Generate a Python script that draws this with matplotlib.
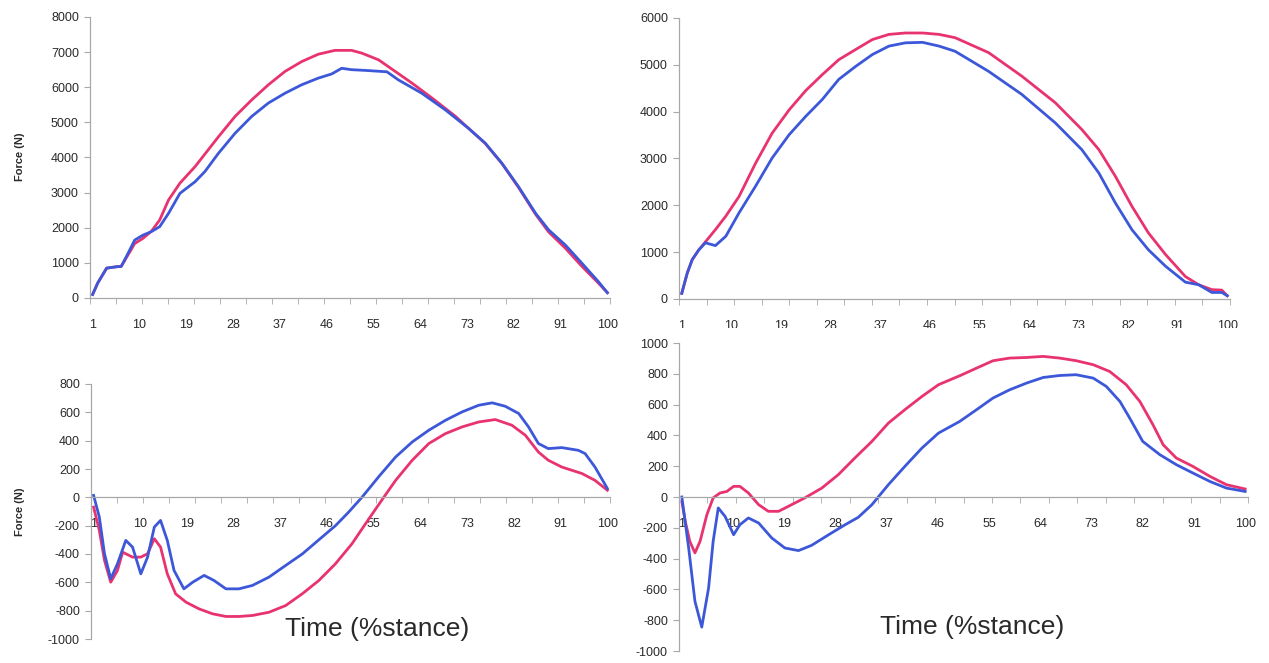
import numpy as np
import matplotlib
matplotlib.use("Agg")
from matplotlib import pyplot as plt
from matplotlib.patches import Rectangle

plt.rcParams['font.family'] = ['Liberation Sans', 'DejaVu Sans']
plt.rcParams['axes.unicode_minus'] = False

# ---- data (x = % stance, y = force in N) ----
tl_blue_x = [1, 2, 3.7, 5.6, 6.5, 7.5, 9.1, 10.7, 12.3, 13.9, 15.6, 17.8, 20.7, 22.6, 25.2, 28.4, 31.6,
             34.8, 38, 41.2, 44.4, 47, 48.9, 50.8, 53.4, 57.6, 59.8, 64.3, 68.8, 73.3, 76.5, 79.7,
             82.9, 86.2, 88.7, 91.9, 95.1, 98.3, 100]
tl_blue = [100, 430, 850, 890, 900, 1180, 1650, 1790, 1890, 2030, 2410, 2980, 3310, 3600, 4120, 4690, 5170,
           5550, 5830, 6070, 6260, 6380, 6540, 6500, 6480, 6440, 6210, 5830, 5360, 4830, 4410, 3840,
           3170, 2410, 1940, 1510, 990, 460, 150]
tl_red_x = [1, 2, 3.7, 5.6, 6.5, 7.5, 9.1, 10.7, 12.3, 13.9, 15.6, 17.8, 20.7, 25.2, 28.4, 31.6, 34.8,
            38, 41.2, 44.4, 47.6, 50.8, 52.8, 56, 59.2, 62.4, 66.3, 70.8, 73.3, 76.5, 79.7, 82.9,
            86.2, 88.7, 91.9, 95.1, 98.3, 100]
tl_red = [100, 430, 850, 890, 900, 1150, 1550, 1700, 1900, 2220, 2790, 3270, 3740, 4590, 5170, 5640, 6070,
          6450, 6730, 6940, 7050, 7050, 6970, 6780, 6450, 6120, 5690, 5170, 4830, 4400, 3830, 3150,
          2380, 1880, 1420, 900, 420, 150]

tr_blue_x = [1, 2, 2.9, 4.1, 5.3, 7.1, 9, 11.4, 14.4, 17.4, 20.5, 23.5, 26.5, 29.5, 32.6, 35.6, 38.6,
             41.6, 44.7, 47.7, 50.6, 56.7, 62.7, 68.8, 73.6, 76.7, 79.7, 82.7, 85.7, 88.8, 92.4,
             94.8, 97.2, 99, 100]
tr_blue = [120, 555, 840, 1050, 1200, 1140, 1340, 1840, 2410, 3010, 3510, 3900, 4260, 4690, 4970, 5220, 5400,
           5470, 5480, 5400, 5290, 4860, 4370, 3760, 3190, 2690, 2050, 1480, 1050, 700, 360,
           305, 140, 140, 70]
tr_red_x = [1, 2, 2.9, 4.1, 5.3, 7.1, 9, 11.4, 14.4, 17.4, 20.5, 23.5, 26.5, 29.5, 32.6, 35.6, 38.6,
            41.6, 44.7, 47.7, 50.6, 56.7, 62.7, 68.8, 73.6, 76.7, 79.7, 82.7, 85.7, 88.8, 92.4,
            94.8, 97.2, 99, 100]
tr_red = [120, 555, 840, 1050, 1220, 1480, 1770, 2190, 2900, 3540, 4040, 4450, 4790, 5110, 5330, 5540, 5650,
          5680, 5680, 5650, 5580, 5260, 4760, 4190, 3620, 3190, 2620, 1980, 1410, 950, 480,
          305, 200, 190, 70]

bl_blue_x = [1, 2.1, 3.1, 4.3, 5.6, 7.2, 8.5, 10.1, 11.4, 12.7, 13.9, 15.2, 16.5, 18.4, 20.1, 22.3, 24.2,
             26.5, 29, 31.6, 34.8, 38, 41.2, 44.4, 47.6, 50, 52.7, 55.9, 59.2, 62.4, 65.6, 68.8,
             72, 75.2, 77.8, 80.3, 82.9, 84.8, 86.7, 88.6, 91.2, 94.4, 95.7, 97.6, 100]
bl_blue = [14, -139, -398, -575, -469, -304, -351, -540, -422, -210, -163, -304, -516, -646, -599, -551, -587,
           -646, -646, -622, -563, -481, -400, -300, -200, -110, 0, 144, 285, 391, 474, 544,
           603, 650, 667, 643, 592, 497, 380, 344, 351, 332, 309, 214, 62]
bl_red_x = [1, 2.1, 3.1, 4.3, 5.6, 6.6, 8.5, 10.1, 11.4, 12.7, 13.9, 15.2, 16.8, 18.8, 21.3, 23.9, 26.5,
            29, 31.6, 34.8, 38, 41.2, 44.4, 47.6, 50.8, 53.4, 56.9, 59.2, 62.4, 65.6, 68.8, 72,
            75.2, 78.4, 81.6, 84.2, 86.7, 88.6, 91.2, 95.1, 97.6, 100]
bl_red = [-69, -233, -445, -599, -516, -387, -422, -422, -398, -292, -351, -540, -681, -740, -787, -822, -841,
          -841, -834, -811, -764, -681, -587, -469, -327, -186, 0, 120, 262, 380, 450, 497,
          532, 549, 509, 438, 320, 262, 214, 168, 120, 50]

br_blue_x = [1, 2.2, 3.3, 4.5, 5.7, 6.5, 7.4, 8.6, 10.1, 11.2, 12.7, 14.5, 16.8, 19.1, 21.5, 23.8,
             26.8, 29.7, 32, 34.4, 37.3, 40.2, 43.2, 46.1, 49.8, 52.8, 55.7, 58.6, 61.6, 64.5, 67.4,
             70.3, 73.3, 75.6, 78, 79.7, 82, 85, 87.9, 90.8, 93.8, 96.7, 100]
br_blue = [0, -331, -677, -845, -591, -288, -71, -126, -245, -180, -136, -169, -266, -331, -348, -314,
           -245, -180, -132, -50, 80, 199, 318, 415, 490, 567, 643, 696, 740, 776, 789,
           794, 772, 718, 620, 513, 361, 275, 210, 156, 101, 58, 36]
br_red_x = [1, 1.6, 2.4, 3.3, 4.2, 5.4, 6.5, 7.7, 8.9, 10.1, 11.2, 12.7, 14.5, 16.2, 18, 19.7, 22.6,
            25.6, 28.5, 31.4, 34.4, 37.3, 40.2, 43.2, 46.1, 50, 52.8, 55.7, 58.6, 61.6, 64.5, 67.4,
            70.3, 73.3, 76.2, 79.1, 81.5, 83.8, 85.6, 87.9, 90.8, 93.8, 96.7, 100]
br_red = [-30, -158, -288, -363, -288, -115, -6, 26, 36, 69, 69, 26, -50, -93, -93, -61, -6,
          58, 145, 253, 361, 480, 567, 653, 729, 790, 837, 885, 902, 906, 913, 902,
          885, 859, 815, 729, 620, 469, 339, 253, 199, 134, 80, 52]

x_labels = [1, 10, 19, 28, 37, 46, 55, 64, 73, 82, 91, 100]

RED = '#e8336f'
BLUE = '#3c58d9'
AXIS = '#a8a8a8'
TXT = '#2a2a2a'

W, H = 1269, 663
fig = plt.figure(figsize=(W / 100, H / 100), dpi=100)


def px_axes(left, top, right, bottom):
    return fig.add_axes([left / W, 1 - bottom / H, (right - left) / W, (bottom - top) / H])


def style(ax, ylim, ystep, zero_axis=False):
    ax.set_xlim(0.5, 100.5)
    ax.set_ylim(*ylim)
    for s in ['top', 'right']:
        ax.spines[s].set_visible(False)
    for s in ['left', 'bottom']:
        ax.spines[s].set_color(AXIS)
        ax.spines[s].set_linewidth(0.9)
    if zero_axis:
        ax.spines['bottom'].set_position(('data', 0))
    ax.set_xticks(x_labels)
    ax.set_xticks(np.arange(0.5, 101, 5), minor=True)
    ax.set_yticks(np.arange(ylim[0], ylim[1] + 1, ystep))
    ax.tick_params(axis='x', which='major', length=0, pad=15, labelsize=9, labelcolor=TXT)
    ax.tick_params(axis='x', which='minor', length=4, direction='out', color=AXIS)
    ax.tick_params(axis='y', length=4, direction='out', color=AXIS, pad=4, labelsize=9, labelcolor=TXT)
    ax.patch.set_alpha(0)


def draw(ax, bx, by, rx, ry):
    ax.plot(rx, ry, color=RED, lw=2.0, solid_joinstyle='round')
    ax.plot(bx, by, color=BLUE, lw=2.0, solid_joinstyle='round')


ax_tl = px_axes(90, 17, 610, 298)
draw(ax_tl, tl_blue_x, tl_blue, tl_red_x, tl_red)
style(ax_tl, (0, 8000), 1000)

ax_tr = px_axes(679, 18, 1230, 299)
draw(ax_tr, tr_blue_x, tr_blue, tr_red_x, tr_red)
style(ax_tr, (0, 6000), 1000)

ax_bl = px_axes(91, 384, 610, 639)
draw(ax_bl, bl_blue_x, bl_blue, bl_red_x, bl_red)
style(ax_bl, (-1000, 800), 200, zero_axis=True)

ax_br = px_axes(679, 343, 1248, 651)
draw(ax_br, br_blue_x, br_blue, br_red_x, br_red)
style(ax_br, (-1000, 1000), 200, zero_axis=True)

# y labels
fig.text(20 / W, 1 - 157 / H, 'Force (N)', rotation=90, ha='center', va='center',
         fontsize=8, fontweight='bold', color=TXT)
fig.text(20 / W, 1 - 512 / H, 'Force (N)', rotation=90, ha='center', va='center',
         fontsize=8, fontweight='bold', color=TXT)

# x labels
fig.text(377 / W, 1 - 629 / H, 'Time (%stance)', ha='center', va='center', fontsize=19, color=TXT)
fig.text(972 / W, 1 - 627 / H, 'Time (%stance)', ha='center', va='center', fontsize=19, color=TXT)

# the lower part of the top-right tick labels is hidden in the original
fig.add_artist(Rectangle((668 / W, 1 - 337 / H), 600 / W, 9 / H, transform=fig.transFigure,
                         facecolor='white', edgecolor='none', zorder=5))

fig.savefig('out.png', dpi=100, facecolor='white')
